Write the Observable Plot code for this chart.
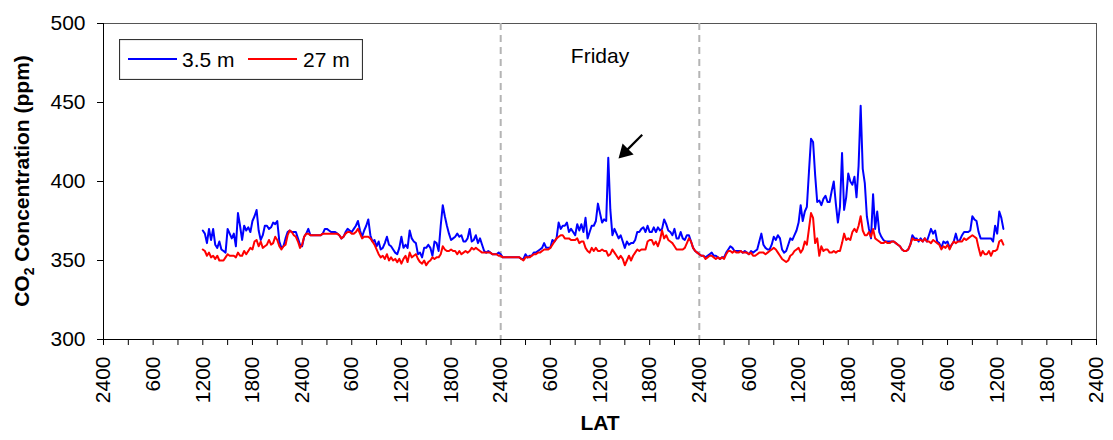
<!DOCTYPE html>
<html>
<head>
<meta charset="utf-8">
<script src="https://cdn.jsdelivr.net/npm/d3@7"></script>
<script src="https://cdn.jsdelivr.net/npm/@observablehq/plot@0.6"></script>
<style>
  html, body { margin: 0; padding: 0; background: #fff; }
  #chart { position: relative; width: 1113px; height: 440px; font-family: "Liberation Sans", Arial, sans-serif; }
  #chart svg { display: block; }
  #legend { position: absolute; left: 119px; top: 39px; }
</style>
</head>
<body>
<div id="chart"></div>
<script>
// 15-minute CO2 concentration (ppm); time in days from the first midnight, records start at noon
const startDay = 0.5;
const stepDay = 1 / 96;

const co2At3_5m = [
  369, 367, 361, 370, 363, 370, 360, 358, 362, 357,
  356, 355, 370, 367, 364, 367, 359, 380, 372, 363,
  372, 369, 371, 368, 375, 378, 382, 369, 363, 366,
  372, 372, 370, 371, 374, 373, 375, 362, 358, 359,
  364, 368, 369, 368, 368, 368, 364, 360, 359, 365,
  367, 370, 366, 366, 366, 366, 366, 366, 367, 370,
  370, 369, 368, 368, 368, 367, 366, 364, 365, 368,
  370, 369, 368, 370, 372, 375, 369, 365, 369, 372,
  376, 366, 362, 363, 359, 362, 357, 358, 361, 365,
  360, 359, 357, 355, 354, 358, 365, 358, 360, 358,
  369, 364, 362, 361, 354, 355, 352, 358, 358, 360,
  358, 353, 362, 361, 356, 372, 385, 378, 372, 367,
  363, 364, 365, 367, 365, 366, 362, 362, 364, 370,
  362, 363, 366, 361, 364, 360, 356, 355, 356, 355,
  354, 354, 354, 355, 354, 352, 352, 352, 352, 352,
  352, 352, 352, 352, 351, 351, 354, 352, 353, 353,
  355, 355, 356, 357, 358, 361, 358, 358, 358, 363,
  362, 364, 374, 370, 372, 372, 374, 368, 370, 368,
  366, 373, 369, 373, 368, 377, 364, 368, 372, 372,
  375, 386, 380, 374, 376, 375, 415, 382, 366, 370,
  367, 364, 366, 362, 358, 362, 360, 361, 361, 363,
  368, 368, 370, 371, 368, 372, 368, 368, 371, 368,
  371, 369, 370, 376, 373, 369, 368, 366, 370, 364,
  364, 368, 364, 363, 366, 366, 362, 358, 356, 355,
  354, 353, 353, 352, 353, 354, 355, 353, 353, 352,
  351, 352, 352, 355, 357, 359, 358, 356, 356, 356,
  356, 355, 356, 355, 354, 356, 355, 356, 357, 362,
  367, 360, 358, 357, 357, 360, 365, 363, 366, 364,
  357, 355, 356, 360, 364, 363, 366, 369, 374, 385,
  375, 381, 384, 406, 427, 425, 404, 387, 388, 385,
  389, 391, 387, 387, 394, 400, 386, 374, 384, 418,
  382, 390, 405, 400, 398, 403, 390, 410, 448, 408,
  399, 378, 370, 364, 392, 370, 381, 368, 365, 363,
  362, 362, 362, 362, 362, 361, 360, 359, 357, 356,
  356, 357, 360, 366, 364, 364, 362, 364, 362, 364,
  362, 366, 370, 367, 369, 362, 361, 358, 362, 361,
  362, 358, 360, 362, 367, 362, 363, 366, 368, 368,
  368, 369, 378, 376, 375, 368, 364, 364, 364, 364,
  364, 364, 362, 372, 367, 381, 377, 370
];

const co2At27m = [
  357, 356, 353, 355, 352, 353, 351, 353, 350, 350,
  350, 352, 354, 353, 353, 353, 352, 355, 353, 353,
  356, 354, 356, 358, 357, 362, 363, 359, 362, 358,
  359, 360, 363, 360, 361, 365, 363, 359, 357, 359,
  360, 366, 369, 368, 366, 365, 362, 358, 360, 365,
  367, 367, 366, 366, 366, 366, 366, 366, 367, 367,
  367, 367, 367, 367, 367, 367, 366, 364, 365, 367,
  368, 368, 367, 367, 368, 370, 367, 364, 365, 365,
  365, 364, 362, 360, 357, 354, 352, 353, 351, 354,
  350, 352, 350, 351, 349, 351, 348, 351, 353, 349,
  355, 352, 353, 354, 351, 349, 348, 350, 347, 349,
  350, 352, 351, 352, 352, 354, 359, 357, 356, 356,
  357, 356, 356, 354, 356, 354, 355, 356, 355, 356,
  358, 357, 358, 357, 356, 355, 355, 355, 355, 355,
  354, 354, 354, 353, 353, 352, 352, 352, 352, 352,
  352, 352, 352, 352, 351, 350, 352, 352, 352, 353,
  354, 354, 355, 355, 356, 357, 357, 357, 358, 360,
  362, 364, 365, 366, 366, 364, 364, 364, 363, 363,
  363, 364, 361, 362, 362, 358, 356, 355, 358, 356,
  358, 356, 356, 357, 356, 356, 353, 354, 357, 355,
  353, 351, 353, 351, 347, 350, 353, 350, 353, 355,
  357, 356, 357, 357, 357, 362, 363, 363, 360, 362,
  359, 363, 369, 364, 366, 363, 362, 361, 359, 357,
  357, 357, 357, 358, 361, 364, 362, 358, 356, 355,
  354, 353, 353, 351, 352, 353, 353, 352, 351, 352,
  351, 352, 351, 354, 356, 356, 355, 356, 355, 355,
  356, 355, 355, 355, 354, 355, 353, 353, 354, 355,
  355, 355, 354, 355, 356, 357, 358, 357, 355, 353,
  351, 350, 349, 350, 353, 354, 356, 357, 358, 355,
  357, 362, 360, 370, 380, 377, 361, 364, 353, 359,
  356, 357, 357, 355, 355, 356, 355, 356, 356, 361,
  367, 363, 364, 363, 368, 370, 368, 372, 378, 369,
  366, 366, 368, 365, 370, 364, 363, 362, 361, 361,
  362, 361, 361, 362, 362, 361, 360, 359, 357, 356,
  356, 357, 360, 364, 363, 363, 363, 363, 362, 364,
  362, 362, 361, 363, 362, 361, 360, 357, 359, 358,
  360, 357, 360, 362, 361, 362, 362, 362, 364, 363,
  364, 365, 366, 365, 364, 358, 353, 356, 354, 354,
  356, 353, 356, 356, 357, 362, 363, 360
];

const seriesNames = ["3.5 m", "27 m"];
const seriesColors = ["#0000ff", "#ff0000"];
const hourLabels = ["2400", "600", "1200", "1800"];
const yTicks = [300, 350, 400, 450, 500];
const dayBoundaries = [2, 3];
const dayName = "Friday";

const toRows = values => values.map((v, i) => ({t: startDay + i * stepDay, v}));
const rowsLow = toRows(co2At3_5m);
const rowsHigh = toRows(co2At27m);

const font = '"Liberation Sans", Arial, sans-serif';
const minorTicks = d3.range(0, 5 + 1e-9, 0.125);
const majorTicks = d3.range(0, 5 + 1e-9, 0.25);

// Annotation arrow pointing at the Friday midday spike
const arrowFrom = {t: 2.7125, v: 429.6};
const arrowHead = {t: 2.6254, v: 418.6};

const plot = Plot.plot({
  width: 1113,
  height: 440,
  marginLeft: 103,
  marginRight: 17,
  marginTop: 23,
  marginBottom: 101,
  style: {fontFamily: font, fontSize: "21px", color: "#000", background: "#fff", overflow: "visible"},
  x: {domain: [0, 5]},
  y: {domain: [300, 500]},
  marks: [
    Plot.frame({stroke: "#555"}),
    Plot.ruleX(dayBoundaries, {stroke: "#b4b4b4", strokeWidth: 2, strokeDasharray: "7,5"}),
    Plot.axisY(yTicks, {tickSize: 6, tickPadding: 12, label: null, fontSize: 21}),
    Plot.axisX(minorTicks, {tickSize: 6, tickFormat: () => "", label: null}),
    Plot.axisX(majorTicks, {
      tickSize: 0, tickPadding: 17, tickRotate: -90, label: null, fontSize: 21,
      tickFormat: d => hourLabels[Math.round(d * 4) % 4]
    }),
    Plot.ruleX([0], {stroke: "#000"}),
    Plot.ruleY([300], {stroke: "#000"}),
    Plot.line(rowsLow, {x: "t", y: "v", stroke: seriesColors[0], strokeWidth: 2}),
    Plot.line(rowsHigh, {x: "t", y: "v", stroke: seriesColors[1], strokeWidth: 2}),
    Plot.text([dayName], {x: 2.5, y: 479, text: d => d, fontSize: 21, fill: "#000"}),
    Plot.link([arrowFrom], {x1: "t", y1: "v", x2: () => arrowHead.t, y2: () => arrowHead.v, stroke: "#000", strokeWidth: 2.2}),
    Plot.dot([arrowHead], {x: "t", y: "v", symbol: "triangle", r: 5.8, fill: "#000", rotate: 225}),
    Plot.text(["LAT"], {frameAnchor: "bottom", text: d => d, dy: 90, fontSize: 21, fontWeight: "bold", fill: "#000"})
  ]
});

// Y axis title with a subscripted 2
const yTitle = d3.select(plot).append("text")
  .attr("transform", "translate(22,181) rotate(-90)")
  .attr("text-anchor", "middle")
  .attr("dy", "0.35em")
  .attr("font-family", font)
  .attr("font-size", 21)
  .attr("font-weight", "bold")
  .attr("fill", "#000");
yTitle.append("tspan").text("CO");
yTitle.append("tspan").attr("font-size", 14).attr("dy", 5).text("2");
yTitle.append("tspan").attr("dy", -5).text(" Concentration (ppm)");

const chart = document.getElementById("chart");
chart.appendChild(plot);

// Legend box inside the plot area
const legend = d3.select(chart).append("svg")
  .attr("id", "legend")
  .attr("width", 244)
  .attr("height", 41);
legend.append("rect")
  .attr("x", 0.5).attr("y", 0.5).attr("width", 243).attr("height", 40)
  .attr("fill", "#fff").attr("stroke", "#333").attr("stroke-width", 1.2);
const legendItems = [
  {x1: 9, x2: 58, tx: 63},
  {x1: 129, x2: 178, tx: 184}
];
legendItems.forEach((it, k) => {
  legend.append("line")
    .attr("x1", it.x1).attr("x2", it.x2).attr("y1", 20).attr("y2", 20)
    .attr("stroke", seriesColors[k]).attr("stroke-width", 2);
  legend.append("text")
    .attr("x", it.tx).attr("y", 20).attr("dy", "0.36em")
    .attr("font-family", font).attr("font-size", 21).attr("fill", "#000")
    .text(seriesNames[k]);
});
</script>
</body>
</html>
